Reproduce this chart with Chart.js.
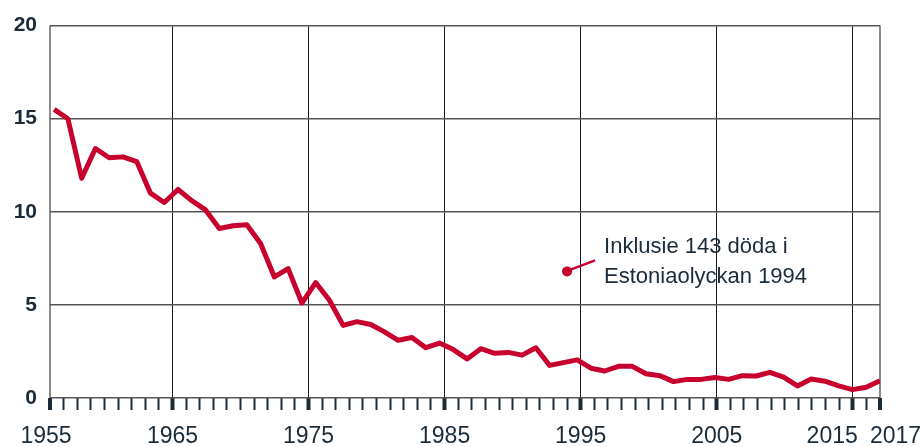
<!DOCTYPE html>
<html>
<head>
<meta charset="utf-8">
<script src="https://cdn.jsdelivr.net/npm/chart.js@4/dist/chart.umd.min.js"></script>
<style>
  html, body { margin: 0; padding: 0; background: #fff; }
  canvas { display: block; }
</style>
</head>
<body>
<canvas id="chart" width="924" height="447"></canvas>
<script>
// Datos de la serie (uno por año)
const FIRST_YEAR = 1957;
const VALUES = [
  15.5, 15.0, 11.8, 13.4, 12.9, 12.95, 12.7, 11.0, 10.5, 11.2,
  10.6, 10.1, 9.1, 9.25, 9.3, 8.3, 6.5, 6.95, 5.1, 6.2,
  5.25, 3.9, 4.1, 3.95, 3.55, 3.1, 3.25, 2.7, 2.95, 2.6,
  2.1, 2.65, 2.4, 2.45, 2.3, 2.7, 1.75, 1.9, 2.05, 1.6,
  1.45, 1.7, 1.7, 1.3, 1.2, 0.88, 1.0, 1.0, 1.1, 1.0,
  1.2, 1.18, 1.38, 1.12, 0.65, 1.02, 0.9, 0.65, 0.45, 0.58, 0.93
];
const YEARS = VALUES.map((v, i) => FIRST_YEAR + i);

// Eje de años (marcas) y etiquetas
const TICK_MIN = 1956;
const TICK_MAX = 2017;
const LABEL_TICKS = [1956, 1965, 1975, 1985, 1995, 2005, 2015, 2017];
const LABEL_TEXT = ['1955', '1965', '1975', '1985', '1995', '2005', '2015', '2017'];
const LABEL_ALIGN = ['center', 'center', 'center', 'center', 'center', 'center', 'right', 'left'];
const GRID_TICKS = [1965, 1975, 1985, 1995, 2005, 2015];

// Eje Y
const Y_TICKS = [0, 5, 10, 15, 20];

// Anotación
const NOTE_YEAR = 1994;
const NOTE_VALUE = 6.8;
const NOTE_LINES = ['Inklusie 143 döda i', 'Estoniaolyckan 1994'];

const RED = '#c8002d';
const INK = '#1b2b3a';
const FONT = '"Liberation Sans", Arial, sans-serif';

// etiquetas del eje X (algunas van alineadas a un lado, como en el original)
const yearLabels = {
  id: 'yearLabels',
  afterDraw(chart) {
    const scale = chart.scales.x;
    const ctx = chart.ctx;
    ctx.save();
    ctx.fillStyle = INK;
    ctx.font = '23px ' + FONT;
    ctx.textBaseline = 'alphabetic';
    LABEL_TICKS.forEach(function(t, i) {
      let x = scale.getPixelForValue(t);
      ctx.textAlign = LABEL_ALIGN[i];
      if (LABEL_ALIGN[i] === 'right') x += 5;
      if (LABEL_ALIGN[i] === 'left') x -= 10;
      if (i === 0) x -= 4;
      ctx.fillText(LABEL_TEXT[i], x, scale.top + 45);
    });
    ctx.restore();
  }
};

const noteLabel = {
  id: 'noteLabel',
  afterDatasetsDraw(chart) {
    const pt = chart.getDatasetMeta(1).data[0];
    if (!pt) return;
    const ctx = chart.ctx;
    ctx.save();
    ctx.strokeStyle = RED;
    ctx.lineWidth = 2.5;
    ctx.beginPath();
    ctx.moveTo(pt.x + 3, pt.y - 1.5);
    ctx.lineTo(pt.x + 28, pt.y - 11);
    ctx.stroke();
    ctx.fillStyle = INK;
    ctx.font = '22px ' + FONT;
    ctx.textBaseline = 'alphabetic';
    ctx.textAlign = 'left';
    ctx.fillText(NOTE_LINES[0], pt.x + 37, pt.y - 18);
    ctx.fillText(NOTE_LINES[1], pt.x + 37, pt.y + 12);
    ctx.restore();
  }
};

new Chart(document.getElementById('chart'), {
  data: {
    datasets: [{
      type: 'line',
      xAxisID: 'xd',
      yAxisID: 'y',
      data: YEARS.map((yr, i) => ({ x: yr, y: VALUES[i] })),
      borderColor: RED,
      borderWidth: 5,
      borderJoinStyle: 'round',
      pointRadius: 0,
      tension: 0,
      fill: false
    }, {
      type: 'scatter',
      xAxisID: 'x',
      yAxisID: 'y',
      data: [{ x: NOTE_YEAR, y: NOTE_VALUE }],
      backgroundColor: RED,
      borderWidth: 0,
      pointRadius: 5
    }]
  },
  options: {
    responsive: false,
    animation: false,
    devicePixelRatio: 1,
    layout: { padding: { top: 25, right: 44, left: 0, bottom: 0 } },
    plugins: { legend: { display: false }, tooltip: { enabled: false } },
    scales: {
      x: {
        type: 'linear',
        position: 'bottom',
        min: TICK_MIN,
        max: TICK_MAX,
        afterFit: function(scale) { scale.height = 49; },
        border: { display: false },
        grid: {
          tickLength: 12,
          color: function(c) {
            const v = c.tick ? c.tick.value : null;
            if (v === TICK_MIN || v === TICK_MAX) return '#8a8a8a';
            if (GRID_TICKS.includes(v)) return '#1a1a1a';
            return 'rgba(0,0,0,0)';
          },
          lineWidth: function(c) {
            const v = c.tick ? c.tick.value : null;
            if (v === TICK_MIN || v === TICK_MAX) return 2;
            return 1;
          },
          tickColor: INK,
          tickWidth: function(c) {
            const v = c.tick ? c.tick.value : null;
            return LABEL_TICKS.includes(v) ? 4 : 2;
          }
        },
        ticks: {
          stepSize: 1,
          autoSkip: false,
          maxRotation: 0,
          display: false
        }
      },
      xd: {
        type: 'linear',
        display: false,
        min: 1956.7,
        max: 2017
      },
      y: {
        min: 0,
        max: 20,
        afterFit: function(scale) { scale.width = 50; },
        afterBuildTicks: function(scale) {
          scale.ticks = Y_TICKS.map(v => ({ value: v }));
        },
        border: { display: false },
        grid: {
          drawTicks: false,
          color: '#555',
          lineWidth: 1.5
        },
        ticks: {
          padding: 13,
          color: INK,
          font: { family: FONT, size: 21, weight: 'bold' }
        }
      }
    }
  },
  plugins: [noteLabel, yearLabels]
});
</script>
</body>
</html>
